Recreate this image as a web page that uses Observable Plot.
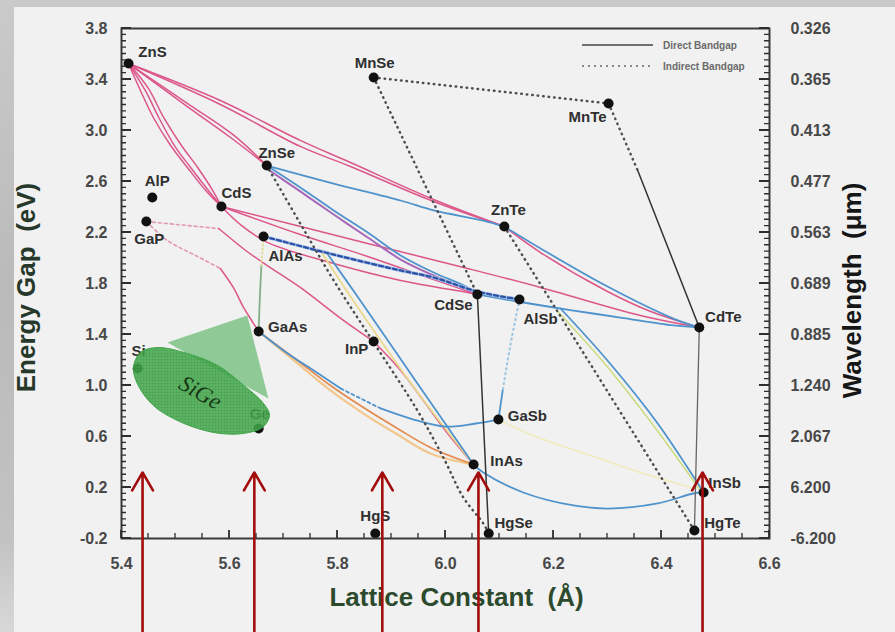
<!DOCTYPE html>
<html>
<head>
<meta charset="utf-8">
<script src="https://cdn.jsdelivr.net/npm/d3@7"></script>
<script src="https://cdn.jsdelivr.net/npm/@observablehq/plot@0.6"></script>
<style>
  html, body { margin: 0; padding: 0; }
  body { width: 895px; height: 632px; overflow: hidden; position: relative; background: #f1f1f1; }
  #topband { position: absolute; left: 0; top: 0; width: 895px; height: 7px; background: #c9c9c9; }
  #leftband { position: absolute; left: 0; top: 0; width: 14px; height: 632px;
              background: linear-gradient(#cacaca, #bababa 45%, #c2c2c2 85%, #d8d8d8); }
  #chart { position: absolute; left: 0; top: 0; }
  #ticks { position: absolute; left: 0; top: 0; pointer-events: none; }
</style>
</head>
<body>
<div id="topband"></div>
<div id="leftband"></div>
<div id="chart"></div>
<svg id="ticks" width="895" height="632"></svg>
<script>
// ---- Binary semiconductors: lattice constant (Å) vs. energy gap (eV) ----
const compounds    = ["ZnS","AlP","GaP","CdS","ZnSe","AlAs","MnSe","MnTe","ZnTe","CdSe","AlSb","CdTe","GaAs","InP","Si","Ge","GaSb","InAs","InSb","HgS","HgSe","HgTe"];
const latticeConst = [5.413,5.457,5.446,5.585,5.669,5.663,5.867,6.302,6.109,6.059,6.137,6.470,5.654,5.867,5.430,5.654,6.098,6.052,6.478,5.870,6.080,6.461];
const energyGap    = [3.525,2.475,2.286,2.404,2.725,2.169,3.416,3.212,2.247,1.714,1.675,1.455,1.424,1.345,1.133,0.663,0.733,0.380,0.161,-0.161,-0.161,-0.137];

// ---- Axis ticks ----
const energyTicks  = [3.8,3.4,3.0,2.6,2.2,1.8,1.4,1.0,0.6,0.2,-0.2];
const wavelengthLabels = ["0.326","0.365","0.413","0.477","0.563","0.689","0.885","1.240","2.067","6.200","-6.200"];
const latticeTicks = [5.4,5.6,5.8,6.0,6.2,6.4,6.6];

// ---- Alloy curves, [lattice constant, energy gap] ----
// II-VI, pink
const znsZnteA = [[5.413,3.525],[5.583,3.235],[5.731,2.922],[5.824,2.749],[5.978,2.459],[6.109,2.247]];
const znsZnteB = [[5.413,3.525],[5.583,3.204],[5.731,2.875],[5.824,2.718],[5.978,2.443],[6.109,2.247]];
const znsZnseA = [[5.413,3.525],[5.522,3.188],[5.602,2.945],[5.669,2.725]];
const znsZnseB = [[5.413,3.525],[5.528,3.196],[5.606,2.969],[5.669,2.725]];
const znsCds1  = [[5.413,3.525],[5.435,3.314],[5.459,3.102],[5.491,2.882],[5.522,2.710],[5.556,2.529],[5.585,2.404]];
const znsCds2  = [[5.413,3.525],[5.444,3.314],[5.469,3.102],[5.498,2.882],[5.528,2.710],[5.561,2.529],[5.585,2.404]];
const znsCds3  = [[5.413,3.525],[5.450,3.329],[5.478,3.102],[5.511,2.882],[5.541,2.710],[5.569,2.529],[5.585,2.404]];
const cdsCdte  = [[5.585,2.404],[5.856,2.114],[6.041,1.918],[6.176,1.769],[6.361,1.549],[6.470,1.455]];
const cdsCdseA = [[5.585,2.404],[5.731,2.184],[5.856,2.012],[5.978,1.831],[6.059,1.714]];
const cdsCdseB = [[5.585,2.404],[5.620,2.263],[5.670,2.122],[5.793,1.957],[5.917,1.824],[6.041,1.729],[6.059,1.714]];
const znteCdtePink = [[6.109,2.247],[6.176,2.043],[6.300,1.737],[6.380,1.580],[6.470,1.455]];
// III-V phosphides, pink
const gapInpDash  = [[5.446,2.286],[5.580,2.231]];
const gapInp      = [[5.580,2.231],[5.630,2.059],[5.670,1.941],[5.731,1.769],[5.811,1.510],[5.867,1.345]];
const gapGaasDash = [[5.446,2.286],[5.485,2.137],[5.537,2.020],[5.583,1.918]];
const gapGaas     = [[5.583,1.918],[5.607,1.769],[5.626,1.612],[5.641,1.510],[5.654,1.424]];
const inpInas     = [[5.867,1.345],[5.917,1.118],[5.959,0.882],[6.004,0.624],[6.052,0.380]];
// blue / purple
const znseZnte       = [[5.669,2.725],[5.793,2.584],[5.917,2.451],[5.978,2.373],[6.070,2.294],[6.109,2.247]];
const znseCdseBlue   = [[5.669,2.725],[5.731,2.553],[5.793,2.373],[5.856,2.200],[5.917,2.020],[5.978,1.886],[6.041,1.769],[6.059,1.714]];
const znseCdsePurple = [[5.669,2.702],[5.731,2.522],[5.793,2.341],[5.856,2.161],[5.917,1.988],[5.978,1.863],[6.041,1.753],[6.059,1.714]];
const znteCdteBlue   = [[6.109,2.247],[6.176,2.075],[6.300,1.776],[6.422,1.525],[6.470,1.455]];
const cdseCdte       = [[6.059,1.714],[6.144,1.651],[6.237,1.588],[6.324,1.533],[6.422,1.471],[6.470,1.455]];
const alasAlsb       = [[5.663,2.169],[5.793,2.027],[5.917,1.902],[5.978,1.847],[6.059,1.737],[6.137,1.675]];
const toInasBlue     = [[5.781,2.035],[5.837,1.698],[5.948,1.016],[6.052,0.380]];
const toInasYellow   = [[5.772,2.035],[5.824,1.698],[5.939,1.000],[6.052,0.380]];
const alsbInsbBlue   = [[6.213,1.604],[6.300,1.196],[6.393,0.702],[6.478,0.161]];
const alsbInsbGreen  = [[6.206,1.588],[6.293,1.180],[6.385,0.686],[6.472,0.176]];
const gaasGasbA      = [[5.654,1.424],[5.713,1.235],[5.756,1.118],[5.806,0.976]];
const gaasGasbDash   = [[5.806,0.976],[5.880,0.820]];
const gaasGasbB      = [[5.880,0.820],[5.935,0.741],[6.000,0.678],[6.056,0.702],[6.098,0.733]];
const inasInsb       = [[6.052,0.380],[6.070,0.318],[6.144,0.161],[6.237,0.059],[6.300,0.035],[6.393,0.075],[6.459,0.153],[6.478,0.161]];
const alsbGasbDot    = [[6.137,1.675],[6.120,1.314],[6.106,0.961]];
const alsbGasb       = [[6.106,0.961],[6.098,0.733]];
// orange / yellow / green
const gaasInasA   = [[5.654,1.424],[5.726,1.196],[5.787,1.000],[5.848,0.827],[5.911,0.663],[5.972,0.514],[6.052,0.380]];
const gaasInasB   = [[5.654,1.424],[5.726,1.173],[5.787,0.961],[5.848,0.780],[5.911,0.616],[5.972,0.467],[6.052,0.380]];
const gasbInsb    = [[6.098,0.733],[6.157,0.616],[6.269,0.451],[6.361,0.318],[6.454,0.200]];
const alasGaasDot = [[5.663,2.169],[5.659,1.941]];
const alasGaas    = [[5.659,1.941],[5.656,1.667],[5.654,1.424]];
// indirect (dotted) and direct (solid) black
const znseHgse    = [[5.669,2.725],[5.731,2.271],[5.793,1.824],[5.867,1.337],[5.948,0.804],[5.996,0.435],[6.033,0.122],[6.070,-0.082],[6.080,-0.161]];
const mnseCdse    = [[5.867,3.416],[6.059,1.714]];
const mnseMnte    = [[5.867,3.416],[6.302,3.212]];
const mnteCdteDot = [[6.302,3.212],[6.356,2.686]];
const znteHgte    = [[6.109,2.247],[6.461,-0.137]];
const mnteCdte    = [[6.356,2.686],[6.470,1.455]];
const cdseHgse    = [[6.059,1.714],[6.080,-0.161]];
const cdteHgte    = [[6.470,1.455],[6.461,-0.137]];

// SiGe region outline and the strained-SiGe triangle
const sigeOutline  = [[5.422,1.141],[5.435,1.259],[5.467,1.298],[5.522,1.251],[5.578,1.157],[5.620,1.024],[5.663,0.859],[5.674,0.765],[5.661,0.671],[5.626,0.624],[5.583,0.624],[5.541,0.663],[5.496,0.741],[5.459,0.843],[5.431,1.000]];
const sigeTriangle = [[5.485,1.337],[5.633,1.549],[5.672,0.898]];
const sigeLabel    = [{x: 5.546, y: 0.945, text: "SiGe"}];

// Marker arrows
const arrowLattice = [5.439, 5.646, 5.883, 6.061, 6.476];
const arrowTailE = -0.94;
const arrowTipE  = 0.318;

// ---- Label placement (pixel offsets from each point) ----
const labelOffset = {
  ZnS:[24,-11], AlP:[5,-16], GaP:[3,18], CdS:[15,-13], ZnSe:[10,-12], AlAs:[22,20],
  MnSe:[1,-14], MnTe:[-21,14], ZnTe:[4,-16], CdSe:[-24,11], AlSb:[21,20], CdTe:[24,-10],
  GaAs:[29,-4], InP:[-17,8], Si:[1,-17], Ge:[1,-14], GaSb:[29,-3], InAs:[33,-3],
  InSb:[21,-9], HgS:[0,-17], HgSe:[25,-10], HgTe:[28,-7]
};

const flatten = (curves) => curves.flatMap((pts, id) => pts.map(([x, y]) => ({id, x, y})));

const lineGroups = [
  {curves: [gapInpDash, gapGaasDash], stroke: "#e596b2", strokeWidth: 1.6, strokeDasharray: "3,3"},
  {curves: [gasbInsb], stroke: "#efebbb", strokeWidth: 1.6},
  {curves: [znsZnteA, znsZnteB, znsZnseA, znsZnseB, znsCds1, znsCds2, znsCds3, cdsCdte, cdsCdseA, cdsCdseB,
            gapInp, gapGaas, inpInas, znteCdtePink], stroke: "#dc5689", strokeWidth: 1.5},
  {curves: [gaasInasB], stroke: "#f3c68c", strokeWidth: 2.2},
  {curves: [gaasInasA], stroke: "#e4894c", strokeWidth: 1.7},
  {curves: [znseCdsePurple], stroke: "#a868b8", strokeWidth: 2},
  {curves: [toInasYellow], stroke: "#ead98c", strokeWidth: 1.8},
  {curves: [alsbInsbGreen], stroke: "#cadb7c", strokeWidth: 1.4},
  {curves: [znseZnte, znseCdseBlue, cdseCdte, znteCdteBlue, gaasGasbA, gaasGasbB, inasInsb, alsbGasb,
            alsbInsbBlue, toInasBlue], stroke: "#4f93cc", strokeWidth: 1.8},
  {curves: [gaasGasbDash], stroke: "#4f93cc", strokeWidth: 1.8, strokeDasharray: "3,3"},
  {curves: [alasGaas], stroke: "#86ad8a", strokeWidth: 1.8},
  {curves: [alasGaasDot], stroke: "#e0da9a", strokeWidth: 2, strokeDasharray: "1,3"},
  {curves: [alsbGasbDot], stroke: "#9fc7e3", strokeWidth: 2.2, strokeDasharray: "1,4"},
  {curves: [alasAlsb], stroke: "#a9c6e8", strokeWidth: 3.4},
  {curves: [alasAlsb], stroke: "#2d50a8", strokeWidth: 2.3, strokeDasharray: "4,3"},
  {curves: [znseHgse, mnseCdse, mnseMnte, mnteCdteDot, znteHgte], stroke: "#4d4d4d", strokeWidth: 2.5, strokeDasharray: "0.5,5"},
  {curves: [mnteCdte, cdseHgse], stroke: "#333", strokeWidth: 1.5},
  {curves: [cdteHgte], stroke: "#666", strokeWidth: 1.3}
];

const minorEnergy  = d3.range(-0.2, 3.801, 0.05).map(v => +v.toFixed(2));
const minorLattice = d3.range(5.4, 6.601, 0.05).map(v => +v.toFixed(2));
const isMajorE = v => energyTicks.some(t => Math.abs(t - v) < 1e-6);
const isMajorL = v => latticeTicks.some(t => Math.abs(t - v) < 1e-6);

const fontStack = "'Liberation Sans', Arial, Helvetica, sans-serif";
const idx = compounds.map((_, i) => i);

// Layout
const W = 895, H = 632, mL = 121, mR = 126, mT = 28, mB = 94;
const xDomain = [5.4, 6.6], yDomain = [-0.2, 3.8];

// Hatch patterns for the SiGe region
const patternDefs = () => {
  const defs = d3.create("svg:defs");
  const p1 = defs.append("pattern").attr("id", "sigeFill").attr("patternUnits", "userSpaceOnUse").attr("width", 3).attr("height", 3);
  p1.append("rect").attr("width", 3).attr("height", 3).attr("fill", "#2f963b");
  p1.append("rect").attr("width", 3).attr("height", 1).attr("fill", "#4fae55");
  p1.append("rect").attr("width", 1).attr("height", 3).attr("fill", "#4fae55");
  const p2 = defs.append("pattern").attr("id", "triFill").attr("patternUnits", "userSpaceOnUse").attr("width", 2).attr("height", 2);
  p2.append("rect").attr("width", 2).attr("height", 2).attr("fill", "#e9f3e9");
  p2.append("rect").attr("width", 1).attr("height", 1).attr("fill", "#35a043");
  p2.append("rect").attr("x", 1).attr("y", 1).attr("width", 1).attr("height", 1).attr("fill", "#35a043");
  return defs.node();
};

// Legend in the upper-right corner of the frame
const legendItems = [
  {label: "Direct Bandgap", dash: null},
  {label: "Indirect Bandgap", dash: "2,4"}
];
const legendMark = (index, scales, values, dims) => {
  const g = d3.create("svg:g");
  const right = dims.width - dims.marginRight;
  const top = dims.marginTop;
  legendItems.forEach((item, i) => {
    const y = top + 17 + i * 21;
    g.append("line").attr("x1", right - 187).attr("x2", right - 116).attr("y1", y).attr("y2", y)
      .attr("stroke", item.dash ? "#666" : "#444").attr("stroke-width", 1.6)
      .attr("stroke-dasharray", item.dash);
    g.append("text").attr("x", right - 106).attr("y", y).attr("dy", "0.35em")
      .attr("text-anchor", "start")
      .attr("font-size", 10).attr("font-weight", "bold").attr("fill", "#6a6a6a")
      .attr("font-family", fontStack).text(item.label);
  });
  return g.node();
};

const labelMarks = compounds.map((name, i) => Plot.text([i], {
  x: j => latticeConst[j], y: j => energyGap[j], text: j => compounds[j],
  dx: labelOffset[name][0], dy: labelOffset[name][1],
  fontSize: 15, fontWeight: "bold", fill: "#2f2f2f", textAnchor: "middle"
}));

const tickLabelStyle = {fontSize: 16, fontWeight: "bold", color: "#484848", label: null};

const chart = Plot.plot({
  width: W,
  height: H,
  marginLeft: mL,
  marginRight: mR,
  marginTop: mT,
  marginBottom: mB,
  x: {domain: xDomain},
  y: {domain: yDomain},
  style: {fontFamily: fontStack, background: "transparent", overflow: "visible"},
  marks: [
    patternDefs,
    // tick labels
    Plot.axisY(energyTicks, {anchor: "left", tickSize: 0, tickPadding: 14, tickFormat: d => d.toFixed(1), ...tickLabelStyle}),
    Plot.axisY(energyTicks, {anchor: "right", tickSize: 0, tickPadding: 21,
      tickFormat: d => wavelengthLabels[energyTicks.indexOf(d)], ...tickLabelStyle}),
    Plot.axisX(latticeTicks, {anchor: "bottom", tickSize: 0, tickPadding: 19, tickFormat: d => d.toFixed(1), ...tickLabelStyle}),
    // alloy curves
    ...lineGroups.map(g => Plot.line(flatten(g.curves), {
      x: "x", y: "y", z: "id", curve: "catmull-rom",
      stroke: g.stroke, strokeWidth: g.strokeWidth, strokeDasharray: g.strokeDasharray,
      strokeLinecap: "round"
    })),
    // compounds
    Plot.dot(idx, {x: i => latticeConst[i], y: i => energyGap[i], r: 5, fill: "#111", stroke: null}),
    ...labelMarks,
    // SiGe region
    Plot.line(sigeTriangle, {x: d => d[0], y: d => d[1], curve: "linear-closed", fill: "url(#triFill)", stroke: "none"}),
    Plot.line(sigeOutline, {x: d => d[0], y: d => d[1], curve: "catmull-rom-closed", fill: "url(#sigeFill)",
      fillOpacity: 0.88, stroke: "#3fa548", strokeWidth: 1}),
    Plot.text(sigeLabel, {x: "x", y: "y", text: "text", rotate: 30, fontSize: 23, fontStyle: "italic",
      fontFamily: "'Liberation Serif', 'Times New Roman', serif", fill: "#183818"}),
    legendMark,
    Plot.frame({stroke: "#3a3a3a", strokeWidth: 2}),
    // axis titles
    Plot.text(["Lattice Constant  (\u00C5)"], {text: d => d, frameAnchor: "bottom", dx: 11, dy: 59,
      textAnchor: "middle", lineAnchor: "middle", fontSize: 26, fontWeight: "bold", fill: "#2c4a2e"}),
    Plot.text(["Energy Gap  (eV)"], {text: d => d, frameAnchor: "left", dx: -95, dy: 4, rotate: -90,
      textAnchor: "middle", lineAnchor: "middle", fontSize: 26, fontWeight: "bold", fill: "#26382a"}),
    Plot.text(["Wavelength  (\u03BCm)"], {text: d => d, frameAnchor: "right", dx: 83, dy: 7, rotate: -90,
      textAnchor: "middle", lineAnchor: "middle", fontSize: 26, fontWeight: "bold", fill: "#161616"}),
    // marker arrows
    Plot.arrow(arrowLattice, {x1: d => d, x2: d => d, y1: () => arrowTailE, y2: () => arrowTipE,
      stroke: "#a30d0d", strokeWidth: 2.6, headLength: 12, headAngle: 60})
  ]
});

document.getElementById("chart").appendChild(chart);

// Inward tick marks on the frame edges, placed with the chart's own x and y scales
const sx = chart.scale("x"), sy = chart.scale("y");
const xa = sx.apply(xDomain[0]), xb = sx.apply(xDomain[1]), yb = sy.apply(yDomain[0]);
const tickLayer = d3.select("#ticks");
const minorPath = d3.path(), majorPath = d3.path();
minorEnergy.forEach(v => {
  const p = isMajorE(v) ? majorPath : minorPath, len = isMajorE(v) ? 10 : 5, yy = sy.apply(v);
  p.moveTo(xa, yy); p.lineTo(xa + len, yy);
  p.moveTo(xb, yy); p.lineTo(xb - len, yy);
});
minorLattice.forEach(v => {
  const p = isMajorL(v) ? majorPath : minorPath, len = isMajorL(v) ? 8 : 5, xx = sx.apply(v);
  p.moveTo(xx, yb); p.lineTo(xx, yb - len);
});
tickLayer.append("path").attr("d", minorPath.toString()).attr("stroke", "#2e2e2e").attr("stroke-width", 1.3).attr("fill", "none");
tickLayer.append("path").attr("d", majorPath.toString()).attr("stroke", "#2e2e2e").attr("stroke-width", 1.8).attr("fill", "none");
</script>
</body>
</html>
